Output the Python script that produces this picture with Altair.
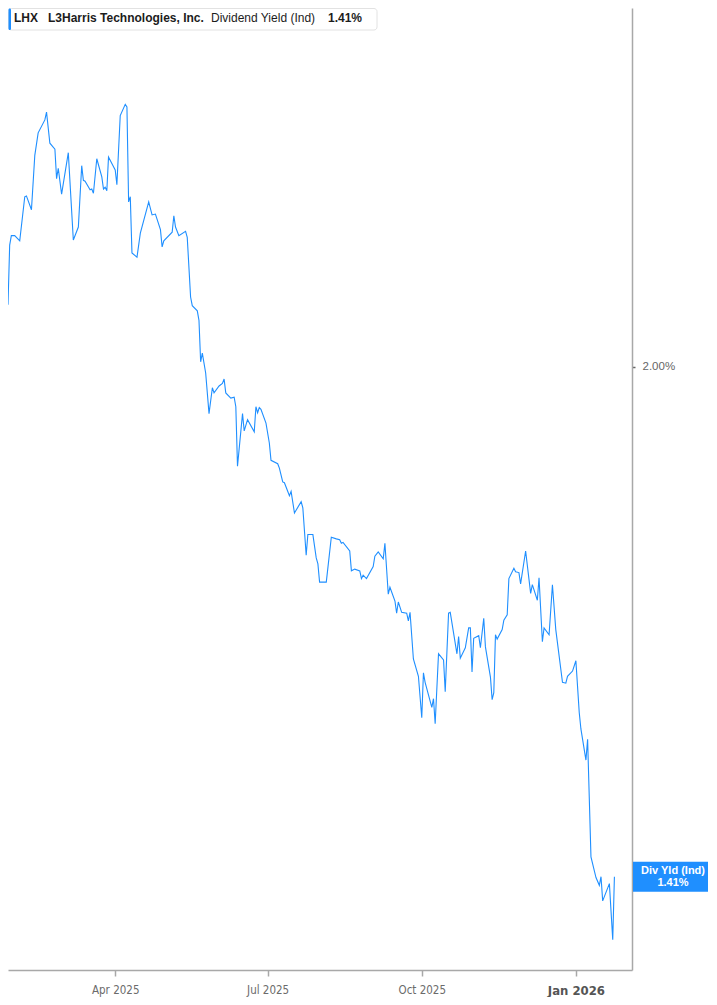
import altair as alt
import pandas as pd

# ---- data ----
dates = [
    "2025-01-27", "2025-01-28", "2025-01-29", "2025-01-31", "2025-02-03", "2025-02-06", "2025-02-07",
    "2025-02-10", "2025-02-12", "2025-02-14", "2025-02-18", "2025-02-19", "2025-02-21", "2025-02-24",
    "2025-02-25", "2025-02-26", "2025-02-28", "2025-03-04", "2025-03-07", "2025-03-10", "2025-03-12",
    "2025-03-13", "2025-03-14", "2025-03-17", "2025-03-18", "2025-03-19", "2025-03-21", "2025-03-24",
    "2025-03-25", "2025-03-26", "2025-03-27", "2025-03-28", "2025-04-01", "2025-04-02", "2025-04-04",
    "2025-04-07", "2025-04-08", "2025-04-09", "2025-04-10", "2025-04-11", "2025-04-14", "2025-04-16",
    "2025-04-21", "2025-04-23", "2025-04-25", "2025-04-28", "2025-04-29", "2025-04-30", "2025-05-05",
    "2025-05-06", "2025-05-07", "2025-05-09", "2025-05-13", "2025-05-14", "2025-05-16", "2025-05-17",
    "2025-05-20", "2025-05-21", "2025-05-22", "2025-05-23", "2025-05-25", "2025-05-27", "2025-05-29",
    "2025-05-30", "2025-06-02", "2025-06-04", "2025-06-05", "2025-06-06", "2025-06-09", "2025-06-11",
    "2025-06-12", "2025-06-13", "2025-06-16", "2025-06-17", "2025-06-19", "2025-06-23", "2025-06-24",
    "2025-06-25", "2025-06-26", "2025-06-27", "2025-06-30", "2025-07-02", "2025-07-03", "2025-07-07",
    "2025-07-08", "2025-07-10", "2025-07-11", "2025-07-14", "2025-07-15", "2025-07-17", "2025-07-21",
    "2025-07-22", "2025-07-24", "2025-07-25", "2025-07-28", "2025-07-30", "2025-07-31", "2025-08-01",
    "2025-08-05", "2025-08-08", "2025-08-11", "2025-08-13", "2025-08-14", "2025-08-15", "2025-08-19",
    "2025-08-20", "2025-08-22", "2025-08-25", "2025-08-26", "2025-08-27", "2025-08-29", "2025-09-02",
    "2025-09-03", "2025-09-05", "2025-09-08", "2025-09-09", "2025-09-11", "2025-09-12", "2025-09-15",
    "2025-09-16", "2025-09-17", "2025-09-19", "2025-09-22", "2025-09-23", "2025-09-24", "2025-09-26",
    "2025-09-29", "2025-10-01", "2025-10-02", "2025-10-03", "2025-10-07", "2025-10-08", "2025-10-09",
    "2025-10-11", "2025-10-14", "2025-10-15", "2025-10-17", "2025-10-18", "2025-10-22", "2025-10-23",
    "2025-10-24", "2025-10-27", "2025-10-29", "2025-10-30", "2025-10-31", "2025-11-01", "2025-11-04",
    "2025-11-05", "2025-11-07", "2025-11-08", "2025-11-11", "2025-11-12", "2025-11-13", "2025-11-14",
    "2025-11-15", "2025-11-18", "2025-11-19", "2025-11-21", "2025-11-22", "2025-11-25", "2025-11-26",
    "2025-11-28", "2025-11-29", "2025-12-02", "2025-12-05", "2025-12-06", "2025-12-09", "2025-12-10",
    "2025-12-12", "2025-12-13", "2025-12-16", "2025-12-18", "2025-12-20", "2025-12-24", "2025-12-26",
    "2025-12-27", "2025-12-30", "2026-01-01", "2026-01-03", "2026-01-04", "2026-01-07", "2026-01-08",
    "2026-01-10", "2026-01-13", "2026-01-15", "2026-01-16", "2026-01-17", "2026-01-21", "2026-01-23",
    "2026-01-24",
]
yields = [
    2.072, 2.141, 2.152, 2.152, 2.146, 2.197, 2.198,
    2.182, 2.245, 2.271, 2.286, 2.295, 2.259, 2.252,
    2.218, 2.230, 2.200, 2.248, 2.147, 2.162, 2.233,
    2.216, 2.215, 2.205, 2.206, 2.201, 2.241, 2.220,
    2.206, 2.208, 2.204, 2.243, 2.228, 2.211, 2.291,
    2.304, 2.301, 2.191, 2.197, 2.132, 2.127, 2.155,
    2.191, 2.176, 2.177, 2.159, 2.139, 2.146, 2.156,
    2.175, 2.162, 2.152, 2.157, 2.150, 2.081, 2.071,
    2.065, 2.054, 2.006, 2.016, 1.993, 1.946, 1.976,
    1.970, 1.978, 1.981, 1.986, 1.970, 1.964, 1.965,
    1.954, 1.885, 1.946, 1.926, 1.939, 1.925, 1.954,
    1.947, 1.953, 1.951, 1.935, 1.912, 1.892, 1.888,
    1.883, 1.867, 1.866, 1.851, 1.856, 1.831, 1.844,
    1.837, 1.782, 1.806, 1.806, 1.779, 1.772, 1.751,
    1.751, 1.803, 1.801, 1.800, 1.796, 1.797, 1.787,
    1.764, 1.766, 1.764, 1.755, 1.759, 1.755, 1.769,
    1.781, 1.786, 1.778, 1.796, 1.737, 1.745, 1.729,
    1.715, 1.728, 1.716, 1.715, 1.706, 1.716, 1.662,
    1.642, 1.594, 1.646, 1.635, 1.606, 1.616, 1.587,
    1.668, 1.661, 1.624, 1.715, 1.716, 1.668, 1.688,
    1.663, 1.675, 1.698, 1.698, 1.647, 1.686, 1.689,
    1.675, 1.709, 1.676, 1.641, 1.615, 1.623, 1.690,
    1.685, 1.696, 1.707, 1.713, 1.755, 1.767, 1.763,
    1.762, 1.749, 1.787, 1.738, 1.748, 1.730, 1.756,
    1.682, 1.698, 1.690, 1.748, 1.696, 1.635, 1.634,
    1.642, 1.648, 1.660, 1.600, 1.581, 1.545, 1.569,
    1.433, 1.409, 1.400, 1.410, 1.382, 1.402, 1.337,
    1.410,
]
ticker = "LHX"
company = "L3Harris Technologies, Inc."
metric = "Dividend Yield (Ind)"
side_label = "Div Yld (Ind)"
y_ticks = [2.0]
y_domain = [1.302, 2.4155]
x_domain = ["2025-01-27", "2026-02-03T12:00:00"]

df = pd.DataFrame({"date": dates, "yield": yields})
last_val = yields[-1]
last_txt = f"{last_val:.2f}%"
one = pd.DataFrame({"k": [0]})

BLUE = "#1f8fff"
FONT = "Liberation Sans"
W, H = 624, 962

x_scale = alt.Scale(type="utc", domain=x_domain)
y_scale = alt.Scale(domain=y_domain, nice=False, zero=False)

is_jan = "utcmonth(datum.value) == 0"
x_axis = alt.Axis(
    values=[
        alt.DateTime(year=2025, month=4, date=1, utc=True),
        alt.DateTime(year=2025, month=7, date=1, utc=True),
        alt.DateTime(year=2025, month=10, date=1, utc=True),
        alt.DateTime(year=2026, month=1, date=1, utc=True),
    ],
    labelExpr="utcFormat(datum.value, '%b %Y')",
    title=None, grid=False,
    domainColor="#a8a8a8", domainWidth=1.5,
    tickColor="#a8a8a8", tickWidth=1.5, tickSize=6,
    labelColor={"condition": {"test": is_jan, "value": "#555555"}, "value": "#6b6b6b"},
    labelFontWeight={"condition": {"test": is_jan, "value": "bold"}, "value": "normal"},
    labelFontSize={"condition": {"test": is_jan, "value": 13}, "value": 11.5},
    labelFont="Liberation Sans Narrow, DejaVu Sans Condensed, Liberation Sans",
    labelPadding=8, labelFlush=False, labelOverlap=False,
)
y_axis = alt.Axis(
    orient="right", values=y_ticks, title=None, grid=False,
    labelExpr="format(datum.value, '.2f') + '%'",
    domainColor="#a8a8a8", domainWidth=1.5,
    tickColor="#666666", tickWidth=1.5, tickSize=3,
    labelColor="#666666", labelFontSize=11.5, labelFont=FONT, labelPadding=7,
)

line = alt.Chart(df).mark_line(color=BLUE, strokeWidth=1.1, clip=True).encode(
    x=alt.X("date:T", scale=x_scale, axis=x_axis),
    y=alt.Y("yield:Q", scale=y_scale, axis=y_axis),
)

# header legend box
hdr_box = alt.Chart(one).mark_rect(fill="white", stroke="#e2e2e2", strokeWidth=1, cornerRadius=3).encode(
    x=alt.value(0.5), x2=alt.value(369), y=alt.value(0.5), y2=alt.value(22))
hdr_accent = alt.Chart(one).mark_rect(fill=BLUE, cornerRadius=1.5).encode(
    x=alt.value(0.5), x2=alt.value(3), y=alt.value(0.5), y2=alt.value(22))

def htext(txt, xpos, bold):
    return alt.Chart(one).mark_text(
        align="left", baseline="middle", font=FONT, fontSize=12,
        fontWeight="bold" if bold else "normal", color="#1c1c1c",
    ).encode(x=alt.value(xpos), y=alt.value(10), text=alt.value(txt))

h1 = htext(ticker, 6, True)
h2 = htext(company, 40, True)
h3 = htext(metric, 203, False)
h4 = htext(last_txt, 320, True)

# right-side current value tag
tag = alt.Chart(one).mark_rect(fill=BLUE, yOffset=-15, y2Offset=15).encode(
    x=alt.value(W + 1), x2=alt.value(700),
    y=alt.Y(datum=last_val, type="quantitative"), y2=alt.Y2(datum=last_val))
tag_t1 = alt.Chart(one).mark_text(
    align="center", baseline="middle", font=FONT, fontSize=11, fontWeight="bold", color="white", dy=-6,
).encode(x=alt.value(665), y=alt.Y(datum=last_val, type="quantitative"), text=alt.value(side_label))
tag_t2 = alt.Chart(one).mark_text(
    align="center", baseline="middle", font=FONT, fontSize=11, fontWeight="bold", color="white", dy=6,
).encode(x=alt.value(665), y=alt.Y(datum=last_val, type="quantitative"), text=alt.value(last_txt))

chart = alt.layer(
    line, hdr_box, hdr_accent, h1, h2, h3, h4, tag, tag_t1, tag_t2
).properties(
    width=W, height=H, padding=0, background="white",
).configure_view(stroke=None)

chart.save("out.html", embed_options={"renderer": "svg", "actions": False})
